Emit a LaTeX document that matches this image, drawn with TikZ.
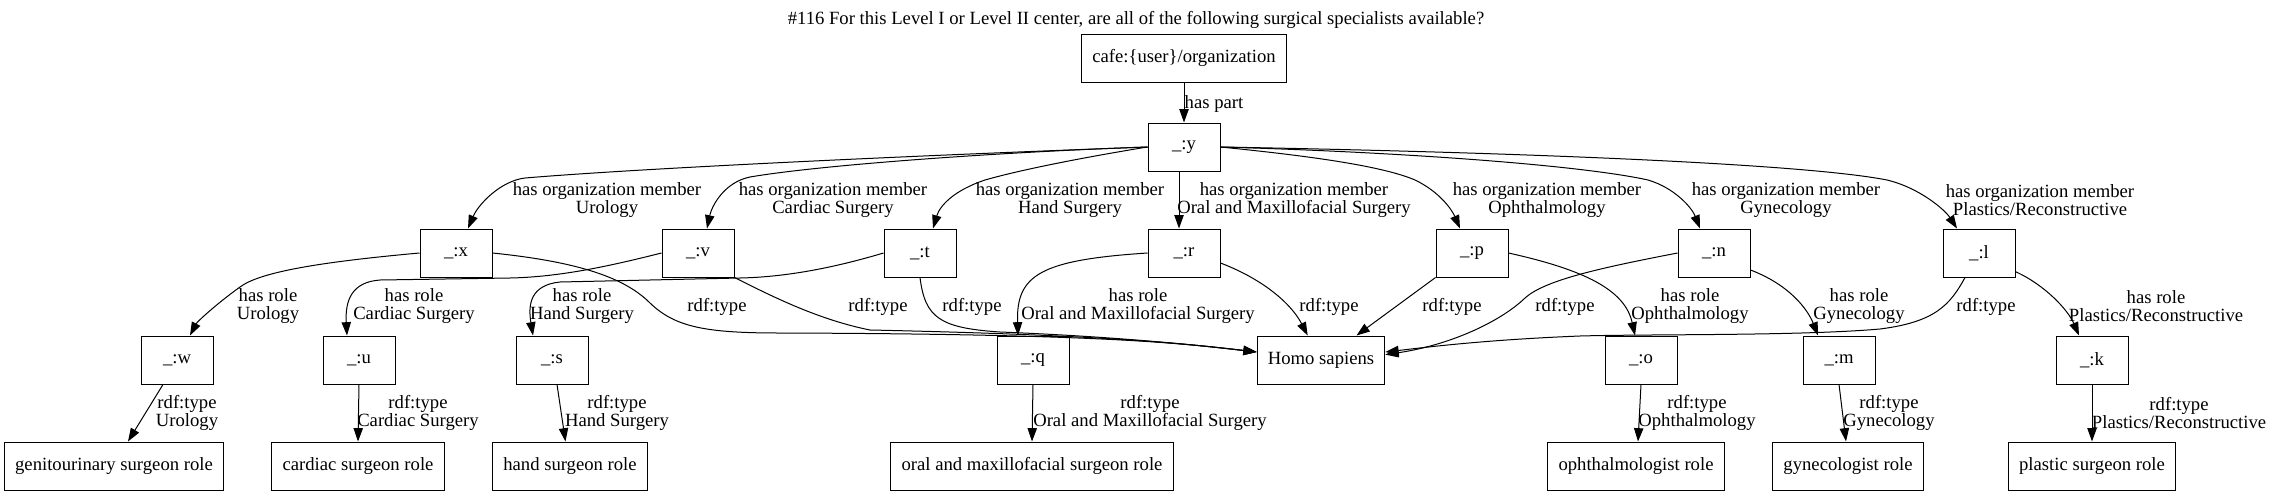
\documentclass[tikz,border=0pt]{standalone}
\usepackage{fontspec}
\setmainfont{Liberation Serif}
\usetikzlibrary{arrows.meta}

\begin{document}
\begin{tikzpicture}[x=0.75pt,y=-0.75pt,
  every node/.style={font=\fontsize{14}{13.5}\selectfont},
  box/.style={draw,line width=0.75pt,inner xsep=8pt,minimum width=54pt,minimum height=36pt},
  lbl/.style={align=center,inner sep=0pt},
  edge/.style={line width=0.75pt,-{Triangle[length=10pt,width=7pt]}}]
\useasboundingbox (0,0) rectangle (2272,496);
\node[lbl] (title) at (1136,20) {\#116 For this Level I or Level II center, are all of the following surgical specialists available?};
\node[box] (cafe) at (1184,58) {cafe:\{user\}/organization};
\node[box] (y) at (1184,147) {\_:y};
\foreach \n/\px in {x/456,v/698,t/920,r/1184,p/1472,n/1714,l/1979}
\node[box] (\n) at (\px,253) {\_:\n};
\foreach \n/\px in {w/177,u/359,s/552,q/1033,o/1641,m/1839,k/2092}
\node[box] (\n) at (\px,360) {\_:\n};
\node[box] (homo) at (1321,360) {Homo sapiens};
\node[box] (geni) at (114,466) {genitourinary surgeon role};
\node[box] (card) at (358,466) {cardiac surgeon role};
\node[box] (hand) at (570,466) {hand surgeon role};
\node[box] (oral) at (1032,466) {oral and maxillofacial surgeon role};
\node[box] (ophth) at (1636,466) {ophthalmologist role};
\node[box] (gyn) at (1848,466) {gynecologist role};
\node[box] (plast) at (2092,466) {plastic surgeon role};
% labels
\node[lbl] (haspart) at (1214,104) {has part};
\node[lbl] (mx) at (607,200) {has organization member\\Urology};
\node[lbl] (mv) at (833,200) {has organization member\\Cardiac Surgery};
\node[lbl] (mt) at (1070,200) {has organization member\\Hand Surgery};
\node[lbl] (mr) at (1294,200) {has organization member\\Oral and Maxillofacial Surgery};
\node[lbl] (mp) at (1547,200) {has organization member\\Ophthalmology};
\node[lbl] (mn) at (1786,200) {has organization member\\Gynecology};
\node[lbl] (ml) at (2040,200) {has organization member\\Plastics/Reconstructive};
\node[lbl] (rw) at (268,306) {has role\\Urology};
\node[lbl] (ru) at (414,306) {has role\\Cardiac Surgery};
\node[lbl] (rs) at (582,306) {has role\\Hand Surgery};
\node[lbl] (rq) at (1138,306) {has role\\Oral and Maxillofacial Surgery};
\node[lbl] (ro) at (1690,306) {has role\\Ophthalmology};
\node[lbl] (rm) at (1859,306) {has role\\Gynecology};
\node[lbl] (rk) at (2156,306) {has role\\Plastics/Reconstructive};
\foreach \n/\px in {tx/717,tv/878,tt/972,tr/1329,tp/1452,tn/1565,tl/1986}
\node[lbl] (\n) at (\px,307) {rdf:type};
\node[lbl] (tw) at (187,413) {rdf:type\\Urology};
\node[lbl] (tu) at (418,413) {rdf:type\\Cardiac Surgery};
\node[lbl] (ts) at (617,413) {rdf:type\\Hand Surgery};
\node[lbl] (tq) at (1150,413) {rdf:type\\Oral and Maxillofacial Surgery};
\node[lbl] (to) at (1697,413) {rdf:type\\Ophthalmology};
\node[lbl] (tm) at (1889,413) {rdf:type\\Gynecology};
\node[lbl] (tk) at (2179,413) {rdf:type\\Plastics/Reconstructive};
% has part, has organization member
\draw[edge] (cafe.south) -- (y.north);
\draw[edge] (y.west) .. controls (850,158) and (620,170) .. (525,178) .. controls (500,181) and (478,205) .. ([xshift=9pt]x.north);
\draw[edge] (y.west) .. controls (1000,152) and (820,165) .. (750,177) .. controls (725,182) and (712,205) .. ([xshift=6.75pt]v.north);
\draw[edge] (y.west) .. controls (1080,158) and (1020,170) .. (985,180) .. controls (955,190) and (940,205) .. ([xshift=9.75pt]t.north);
\draw[edge] ([xshift=-3.75pt]y.south) -- ([xshift=-3.75pt]r.north);
\draw[edge] (y.east) .. controls (1300,155) and (1380,165) .. (1415,180) .. controls (1440,192) and (1452,210) .. ([xshift=-9pt]p.north);
\draw[edge] (y.east) .. controls (1400,152) and (1580,165) .. (1648,180) .. controls (1675,188) and (1692,208) .. ([xshift=-10.5pt]n.north);
\draw[edge] (y.east) .. controls (1500,152) and (1800,163) .. (1887,180) .. controls (1920,188) and (1945,210) .. ([xshift=-16.5pt]l.north);
% has role
\draw[edge] (x.west) .. controls (320,262) and (260,272) .. (240,287) .. controls (215,305) and (197,322) .. ([xshift=9.75pt]w.north);
\draw[edge] (v.west) .. controls (610,266) and (560,277) .. (510,278) -- (380,280) .. controls (352,282) and (345,300) .. ([xshift=-9pt]u.north);
\draw[edge] (t.west) .. controls (840,266) and (790,277) .. (740,278) -- (560,282) .. controls (530,285) and (528,305) .. ([xshift=-14.25pt]s.north);
\draw[edge] (r.west) .. controls (1040,260) and (1016,275) .. ([xshift=-11.25pt]q.north);
\draw[edge] (p.east) .. controls (1585,270) and (1625,290) .. ([xshift=-4.5pt]o.north);
\draw[edge] ([yshift=-12.75pt]n.east) .. controls (1790,285) and (1808,310) .. ([xshift=-15.75pt]m.north);
\draw[edge] ([yshift=-14pt]l.east) .. controls (2045,285) and (2068,310) .. ([xshift=-9.75pt]k.north);
% rdf:type to Homo sapiens
\draw[edge] (x.east) .. controls (580,262) and (625,278) .. (650,303) .. controls (675,327) and (705,333) .. (780,333) .. controls (1100,334) and (1180,343) .. ([yshift=6pt]homo.west);
\draw[edge] (v.south east) .. controls (775,298) and (820,320) .. (870,330) .. controls (1100,335) and (1180,343) .. ([yshift=6pt]homo.west);
\draw[edge] (t.south) .. controls (925,318) and (940,328) .. (1000,332) .. controls (1100,336) and (1180,343) .. ([yshift=6pt]homo.west);
\draw[edge] ([yshift=-7.5pt]r.east) .. controls (1265,280) and (1292,305) .. ([xshift=-10pt]homo.north);
\draw[edge] (p.south west) -- ([xshift=26.6pt]homo.north);
\draw[edge] (n.west) .. controls (1600,268) and (1545,280) .. (1525,298) .. controls (1500,322) and (1450,345) .. ([yshift=4pt]homo.east);
\draw[edge] ([xshift=-10.5pt]l.south) .. controls (1950,305) and (1935,322) .. (1880,329) .. controls (1800,336) and (1650,334) .. (1580,336) .. controls (1480,340) and (1420,348) .. ([yshift=6pt]homo.east);
% rdf:type to roles
\draw[edge] ([xshift=-10.5pt]w.south) -- ([xshift=10.5pt]geni.north);
\draw[edge] (u.south) -- (card.north);
\draw[edge] ([xshift=3.75pt]s.south) -- ([xshift=-3.4pt]hand.north);
\draw[edge] (q.south) -- (oral.north);
\draw[edge] (o.south) -- ([xshift=1.5pt]ophth.north);
\draw[edge] (m.south) -- ([xshift=-1.5pt]gyn.north);
\draw[edge] (k.south) -- (plast.north);
\end{tikzpicture}
\end{document}
